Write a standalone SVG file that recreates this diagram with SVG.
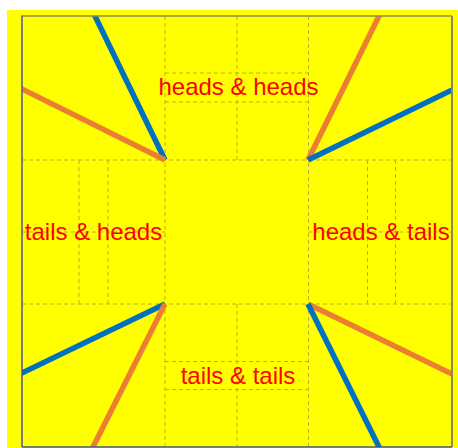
<svg xmlns="http://www.w3.org/2000/svg" width="458" height="448" viewBox="0 0 458 448">
  <style>
    .grid { stroke: #b8b030; stroke-width: 1; stroke-dasharray: 4 3; fill: none; }
    .lbl { font-family: "Liberation Sans", Arial, sans-serif; font-size: 24px; fill: #ff0000; text-anchor: middle; }
    .blue { stroke: #0070c0; stroke-width: 5.5; fill: none; }
    .orange { stroke: #ed7d31; stroke-width: 5.5; fill: none; }
  </style>
  <defs>
    <clipPath id="plot"><rect x="22" y="16" width="430" height="431"/></clipPath>
  </defs>
  <rect x="0" y="0" width="458" height="448" fill="#ffffff"/>
  <rect x="7" y="10" width="451" height="438" fill="#ffff00"/>

  <g id="grid">
    <line class="grid" x1="165" y1="16" x2="165" y2="447"/>
    <line class="grid" x1="308.5" y1="16" x2="308.5" y2="447"/>
    <line class="grid" x1="22" y1="160" x2="452" y2="160"/>
    <line class="grid" x1="22" y1="304" x2="452" y2="304"/>
    <line class="grid" x1="237" y1="16" x2="237" y2="160"/>
    <line class="grid" x1="237" y1="304" x2="237" y2="447"/>
    <line class="grid" x1="165" y1="73" x2="308.5" y2="73"/>
    <line class="grid" x1="165" y1="102" x2="308.5" y2="102"/>
    <line class="grid" x1="165" y1="361.5" x2="308.5" y2="361.5"/>
    <line class="grid" x1="165" y1="389.5" x2="308.5" y2="389.5"/>
    <line class="grid" x1="79" y1="160" x2="79" y2="304"/>
    <line class="grid" x1="108" y1="160" x2="108" y2="304"/>
    <line class="grid" x1="367.5" y1="160" x2="367.5" y2="304"/>
    <line class="grid" x1="395.5" y1="160" x2="395.5" y2="304"/>
    <line class="grid" x1="22" y1="232" x2="165" y2="232"/>
    <line class="grid" x1="308.5" y1="232" x2="452" y2="232"/>
  </g>

  <g id="connectors" clip-path="url(#plot)">
    <line class="blue" x1="165" y1="160" x2="94" y2="14"/>
    <line class="orange" x1="165" y1="160" x2="20" y2="88"/>
    <line class="orange" x1="308" y1="160" x2="380" y2="14"/>
    <line class="blue" x1="308" y1="160" x2="454" y2="89"/>
    <line class="blue" x1="165" y1="304" x2="20" y2="374"/>
    <line class="orange" x1="165" y1="304" x2="92" y2="449"/>
    <line class="orange" x1="308" y1="304" x2="454" y2="375"/>
    <line class="blue" x1="308" y1="304" x2="380" y2="449"/>
  </g>

  <g id="frame">
    <line x1="22" y1="16" x2="452" y2="16" stroke="#8c8c50" stroke-width="1.5"/>
    <line x1="452" y1="16" x2="452" y2="447" stroke="#8c8c50" stroke-width="2"/>
    <line x1="22" y1="15.5" x2="22" y2="447" stroke="#4a5a8c" stroke-width="1.5"/>
    <line x1="22" y1="447" x2="452" y2="447" stroke="#4a5a7c" stroke-width="1.5"/>
  </g>

  <g id="heads-heads"><text class="lbl" x="238.5" y="95">heads &amp; heads</text></g>
  <g id="tails-heads"><text class="lbl" x="93.5" y="239.5">tails &amp; heads</text></g>
  <g id="heads-tails"><text class="lbl" x="381" y="239.5">heads &amp; tails</text></g>
  <g id="tails-tails"><text class="lbl" x="238" y="383.5">tails &amp; tails</text></g>
</svg>
